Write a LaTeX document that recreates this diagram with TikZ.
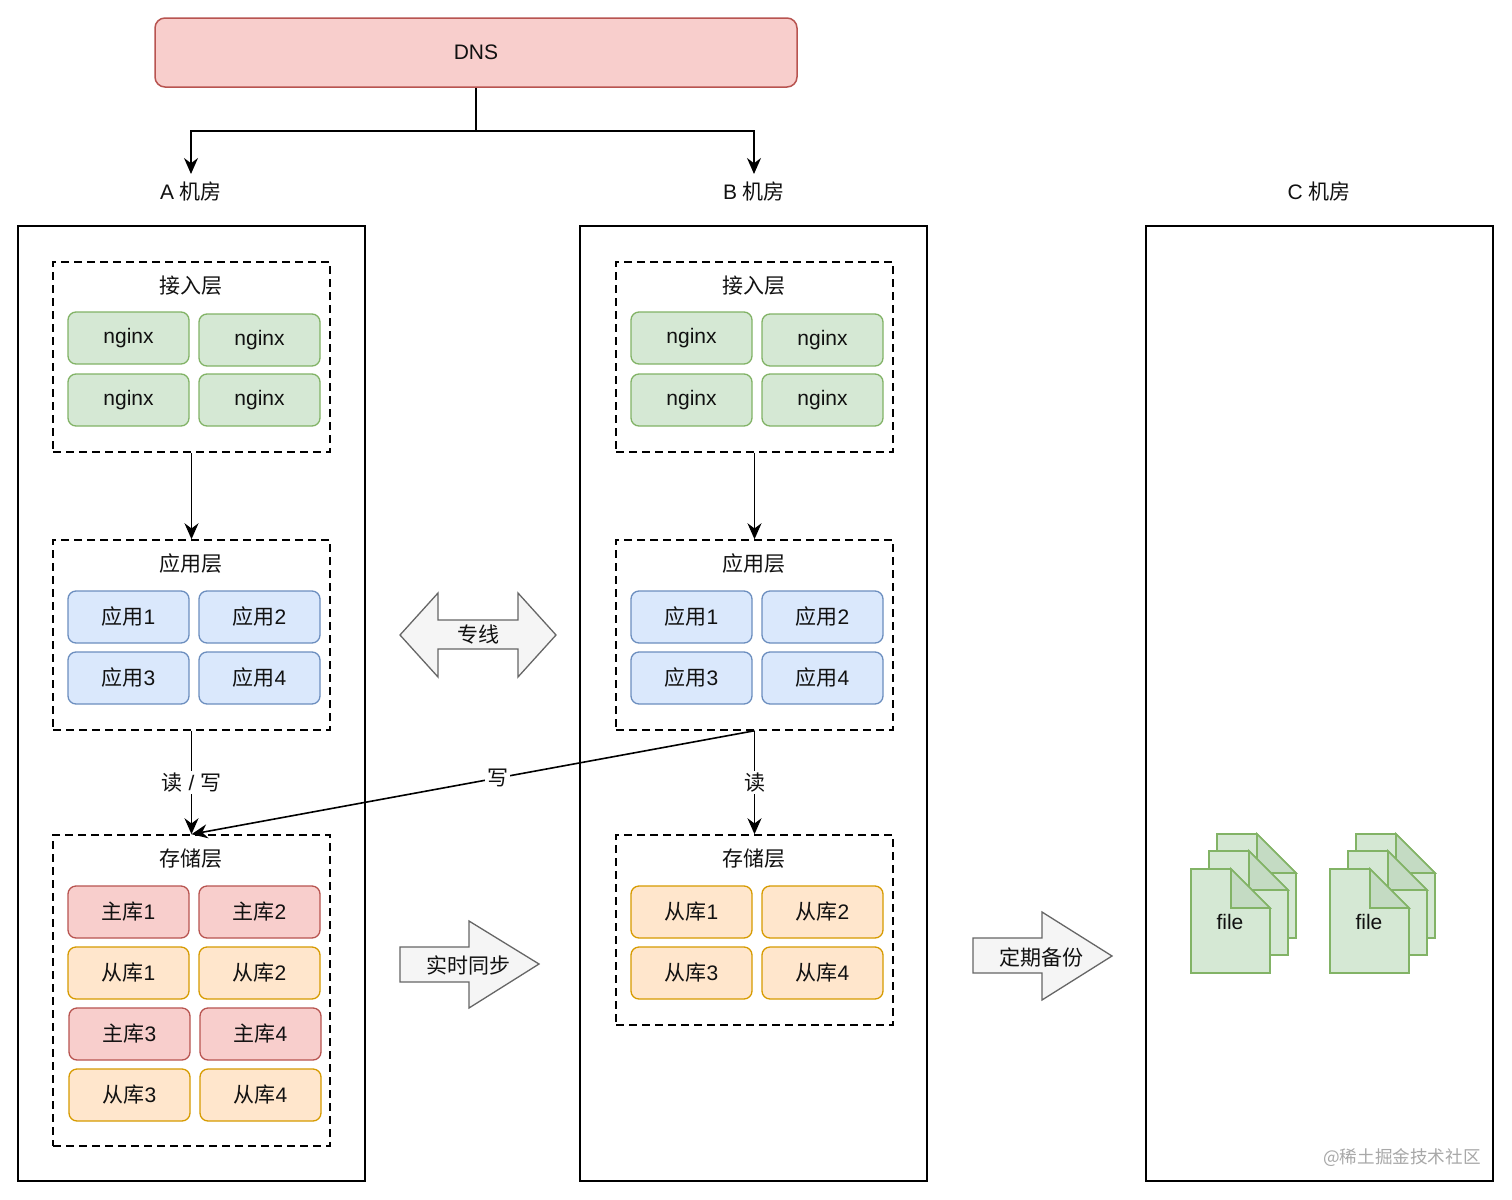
\documentclass[tikz,border=0pt]{standalone}
\usepackage{fontspec}
\setmainfont{Liberation Sans}
\newfontfamily\cjk{Noto Sans CJK SC}
\usetikzlibrary{arrows.meta}
\definecolor{gfill}{HTML}{D5E8D4}\definecolor{gdraw}{HTML}{82B366}
\definecolor{bfill}{HTML}{DAE8FC}\definecolor{bdraw}{HTML}{6C8EBF}
\definecolor{rfill}{HTML}{F8CECC}\definecolor{rdraw}{HTML}{B85450}
\definecolor{ofill}{HTML}{FFE6CC}\definecolor{odraw}{HTML}{D79B00}
\definecolor{afill}{HTML}{F5F5F5}\definecolor{adraw}{HTML}{666666}
\definecolor{foldg}{HTML}{C4DBC3}
\definecolor{wm}{HTML}{A8A8A8}
\definecolor{txt}{HTML}{111111}
\newcommand\docpage[2]{%
  \draw[fill=gfill, draw=gdraw, line width=0.8pt] (#1,#2) -- ({#1+40},#2) -- ({#1+79},{#2+39}) -- ({#1+79},{#2+104}) -- (#1,{#2+104}) -- cycle;
  \draw[fill=foldg, draw=gdraw, line width=0.8pt] ({#1+40},#2) -- ({#1+40},{#2+39}) -- ({#1+79},{#2+39}) -- cycle;
}
\begin{document}
\begin{tikzpicture}[x=0.5pt,y=-0.5pt,
  font=\fontsize{10.5pt}{12.5pt}\selectfont, text=txt,
  box/.style={draw, rounded corners=4pt, minimum width=60.5pt, minimum height=26pt, inner sep=0pt, line width=0.65pt},
  gbox/.style={box, fill=gfill, draw=gdraw},
  bbox/.style={box, fill=bfill, draw=bdraw},
  rbox/.style={box, fill=rfill, draw=rdraw},
  obox/.style={box, fill=ofill, draw=odraw},
  layer/.style={draw, dash pattern=on 4pt off 2.5pt, line width=0.75pt, minimum width=138.5pt, inner sep=0pt},
  room/.style={draw, line width=0.75pt, minimum width=173.5pt, minimum height=477.5pt, inner sep=0pt},
  arr/.style={-{Stealth[length=8pt,width=7pt]}, line width=0.8pt},
  lbl/.style={fill=white, inner sep=1pt},
  fat/.style={fill=afill, draw=adraw, line width=0.65pt, line join=miter},
  plain/.style={inner sep=0pt}
]
\useasboundingbox (0,0) rectangle (1512,1200);
\fill[white] (0,0) rectangle (1512,1200);

% DNS
\node[draw=rdraw, fill=rfill, rounded corners=5pt, line width=0.75pt, minimum width=321pt, minimum height=34.5pt, inner sep=0pt] (dns) at (476,52.5) {DNS};

% room labels
\node[plain] (lblA) at (191,192) {A {\cjk 机房}};
\node[plain] (lblB) at (754,192) {B {\cjk 机房}};
\node[plain] (lblC) at (1319,192) {C {\cjk 机房}};
\coordinate (inA) at (191,174);
\coordinate (inB) at (754,174);
\coordinate (fork) at (476,131);
\draw[line width=0.8pt] (dns.south) -- (fork);
\draw[arr] (fork) -| (inA);
\draw[arr] (fork) -| (inB);

% rooms
\node[room] (roomA) at (191.5,703.5) {};
\node[room] (roomB) at (753.5,703.5) {};
\node[room] (roomC) at (1319.5,703.5) {};

% access & app layers for A and B
\foreach \r/\dx in {A/0,B/563}{
  \node[layer, minimum height=95pt] (\r acc) at ({191.5+\dx},357) {};
  \node[plain] (\r acct) at ({191+\dx},286) {\cjk 接入层};
  \node[gbox] (\r n1) at ({128.5+\dx},338) {nginx};
  \node[gbox] (\r n2) at ({259.5+\dx},340) {nginx};
  \node[gbox] (\r n3) at ({128.5+\dx},400) {nginx};
  \node[gbox] (\r n4) at ({259.5+\dx},400) {nginx};
  \node[layer, minimum height=95pt] (\r app) at ({191.5+\dx},635) {};
  \node[plain] (\r appt) at ({191+\dx},564) {\cjk 应用层};
  \node[bbox] (\r a1) at ({128.5+\dx},617) {{\cjk 应用}1};
  \node[bbox] (\r a2) at ({259.5+\dx},617) {{\cjk 应用}2};
  \node[bbox] (\r a3) at ({128.5+\dx},678) {{\cjk 应用}3};
  \node[bbox] (\r a4) at ({259.5+\dx},678) {{\cjk 应用}4};
  \draw[arr] (\r acc.south) -- (\r app.north);
}

% storage A
\node[layer, minimum height=155.5pt] (Asto) at (191.5,990.5) {};
\node[plain] (Astot) at (191,859) {\cjk 存储层};
\node[rbox] (Am1) at (128.5,912) {{\cjk 主库}1};
\node[rbox] (Am2) at (259.5,912) {{\cjk 主库}2};
\node[obox] (As1) at (128.5,973) {{\cjk 从库}1};
\node[obox] (As2) at (259.5,973) {{\cjk 从库}2};
\node[rbox] (Am3) at (129.5,1034) {{\cjk 主库}3};
\node[rbox] (Am4) at (260.5,1034) {{\cjk 主库}4};
\node[obox] (As3) at (129.5,1095) {{\cjk 从库}3};
\node[obox] (As4) at (260.5,1095) {{\cjk 从库}4};

% storage B
\node[layer, minimum height=95pt] (Bsto) at (754.5,930) {};
\node[plain] (Bstot) at (754,859) {\cjk 存储层};
\node[obox] (Bs1) at (691.5,912) {{\cjk 从库}1};
\node[obox] (Bs2) at (822.5,912) {{\cjk 从库}2};
\node[obox] (Bs3) at (691.5,973) {{\cjk 从库}3};
\node[obox] (Bs4) at (822.5,973) {{\cjk 从库}4};

% read/write connectors
\draw[arr] (Aapp.south) -- node[lbl] {{\cjk 读} / {\cjk 写}} (Asto.north);
\draw[arr] (Bapp.south) -- node[lbl] {\cjk 读} (Bsto.north);
\draw[arr] (Bapp.south) -- node[lbl, pos=0.456] {\cjk 写} (Asto.north);

% fat arrows
\draw[fat] (400,635) -- (438,593) -- (438,620) -- (518,620) -- (518,593) -- (556,635) -- (518,677) -- (518,649) -- (438,649) -- (438,677) -- cycle;
\node[plain] (zx) at (478,635) {\cjk 专线};
\draw[fat] (400,947) -- (469,947) -- (469,921) -- (539,964) -- (469,1008) -- (469,982) -- (400,982) -- cycle;
\node[plain] (sync) at (468,965) {\cjk 实时同步};
\draw[fat] (973,938) -- (1042,938) -- (1042,912) -- (1112,956) -- (1042,1000) -- (1042,973) -- (973,973) -- cycle;
\node[plain] (bak) at (1041,957) {\cjk 定期备份};

% files
\docpage{1217}{834}
\docpage{1209}{851}
\docpage{1191}{869}
\node[plain] (f1) at (1230,922) {file};
\docpage{1356}{834}
\docpage{1348}{851}
\docpage{1330}{869}
\node[plain] (f2) at (1369,922) {file};

% watermark
\node[plain, anchor=east, text=wm, font=\cjk\fontsize{8.8pt}{10pt}\selectfont] (wmk) at (1481,1158) {@稀土掘金技术社区};
\end{tikzpicture}
\end{document}
